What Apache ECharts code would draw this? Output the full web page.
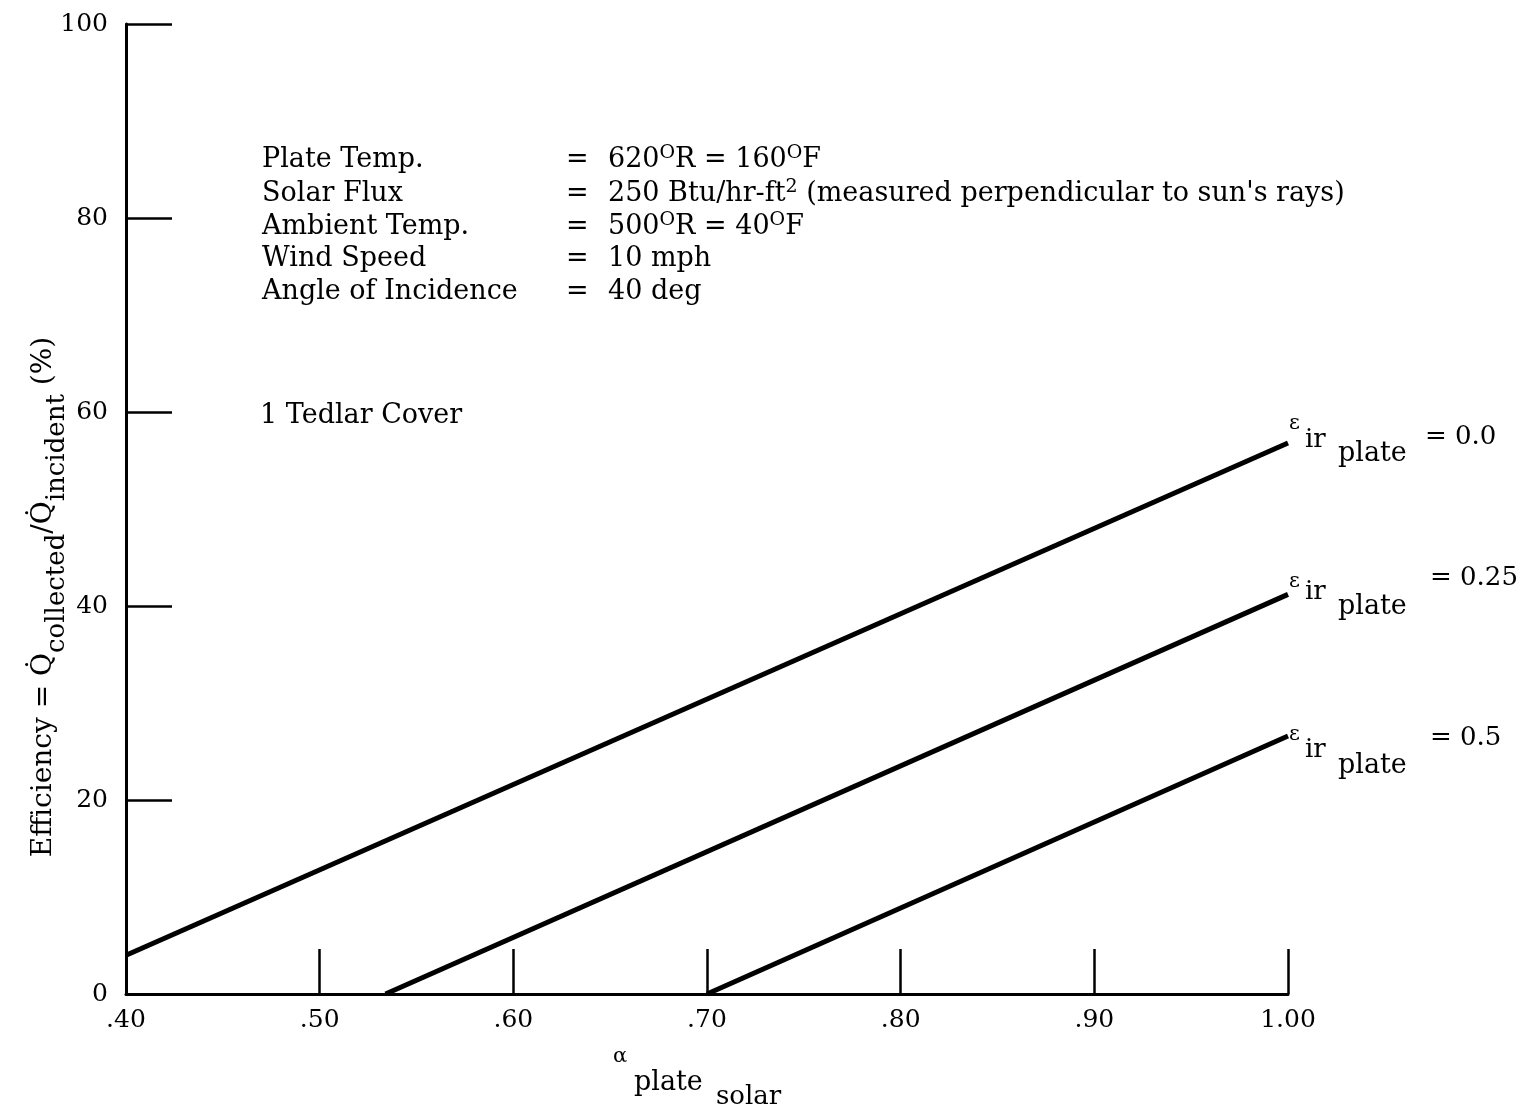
<!DOCTYPE html>
<html>
<head>
<meta charset="utf-8">
<style>
  html, body { margin: 0; padding: 0; background: #fff; }
  #chart { width: 1530px; height: 1109px; }
</style>
<script src="https://cdn.jsdelivr.net/npm/echarts@6/dist/echarts.min.js"></script>
</head>
<body>
<div id="chart"></div>
<script>
// alpha (solar absorptance of plate) vs efficiency (%), one line per plate ir emittance
var alphaE00 = [0.40, 1.00];
var effE00 = [4.0, 56.8];
var alphaE25 = [0.534, 1.00];
var effE25 = [0, 41.2];
var alphaE50 = [0.70, 1.00];
var effE50 = [0, 26.6];

var xTicks = ['.40', '.50', '.60', '.70', '.80', '.90', '1.00'];
var yTicks = ['0', '20', '40', '60', '80', '100'];

var serif = 'DejaVu Serif';

function pairs(xs, ys) {
    return xs.map(function (x, i) { return [x, ys[i]]; });
}

function lineSeries(xs, ys) {
    return {
        type: 'line',
        data: pairs(xs, ys),
        symbol: 'none',
        lineStyle: { color: '#000', width: 5 },
        animation: false
    };
}

var rich = {
    sup: { fontFamily: serif, fontSize: 19, color: '#000', padding: [0, 0, 14, 0] },
    sub: { fontFamily: serif, fontSize: 26, color: '#000', padding: [26, 0, 0, 0] }
};

function txt(x, y, text, size, extra) {
    var st = {
        text: text,
        x: x, y: y,
        font: (size || 27) + 'px "' + serif + '"',
        fill: '#000',
        verticalAlign: 'middle',
        rich: rich
    };
    if (extra) for (var k in extra) st[k] = extra[k];
    return { type: 'text', silent: true, style: st };
}

var infoLabels = ['Plate Temp.', 'Solar Flux', 'Ambient Temp.', 'Wind Speed', 'Angle of Incidence'];
var infoValues = [
    '620{sup|O}R = 160{sup|O}F',
    '250 Btu/hr-ft{sup|2} (measured perpendicular to sun\'s rays)',
    '500{sup|O}R = 40{sup|O}F',
    '10 mph',
    '40 deg'
];
var infoY = [160, 194, 227, 259, 292];

var graphics = [];
infoLabels.forEach(function (l, i) {
    graphics.push(txt(262, infoY[i], l));
    graphics.push(txt(566, infoY[i], '='));
    graphics.push(txt(608, infoY[i], infoValues[i]));
});
graphics.push(txt(260, 416, '1 Tedlar Cover'));

// curve labels: epsilon_ir,plate = value
var curveLabels = [
    { eps: 424, ir: 440, plate: 454, eq: 437, eqX: 1425, v: '= 0.0' },
    { eps: 582, ir: 592, plate: 607, eq: 578, eqX: 1430, v: '= 0.25' },
    { eps: 735, ir: 750, plate: 766, eq: 738, eqX: 1430, v: '= 0.5' }
];
curveLabels.forEach(function (c) {
    graphics.push(txt(1289, c.eps, '\u03b5', 21));
    graphics.push(txt(1305, c.ir, 'ir', 26));
    graphics.push(txt(1338, c.plate, 'plate', 27));
    graphics.push(txt(c.eqX, c.eq, c.v, 26));
});

// x axis name
graphics.push(txt(613, 1057, '\u03b1', 21));
graphics.push(txt(634, 1083, 'plate', 27));
graphics.push(txt(716, 1097, 'solar', 26));

// y axis name (rotated)
graphics.push({
    type: 'text',
    silent: true,
    x: 44, y: 597,
    rotation: Math.PI / 2,
    style: {
        text: 'Efficiency = Q\u0307{sub|collected}/Q\u0307{sub|incident} (%)',
        font: '28px "' + serif + '"',
        fill: '#000',
        align: 'center',
        verticalAlign: 'middle',
        rich: rich
    }
});

var chart = echarts.init(document.getElementById('chart'), null, { renderer: 'canvas' });
chart.setOption({
    backgroundColor: '#fff',
    animation: false,
    grid: { left: 126, right: 242, top: 24, bottom: 115, containLabel: false },
    xAxis: {
        type: 'value',
        min: 0.4, max: 1.0, interval: 0.1,
        axisLine: { show: true, lineStyle: { color: '#000', width: 3 } },
        axisTick: { show: true, inside: true, length: 45, lineStyle: { color: '#000', width: 2.5 } },
        splitLine: { show: false },
        axisLabel: {
            margin: 14,
            fontFamily: serif, fontSize: 25, color: '#000',
            formatter: function (v) {
                return xTicks[Math.round((v - 0.4) / 0.1)];
            }
        }
    },
    yAxis: {
        type: 'value',
        min: 0, max: 100, interval: 20,
        axisLine: { show: true, lineStyle: { color: '#000', width: 3 } },
        axisTick: { show: true, inside: true, length: 46, lineStyle: { color: '#000', width: 2.5 } },
        splitLine: { show: false },
        axisLabel: {
            margin: 18,
            fontFamily: serif, fontSize: 25, color: '#000',
            formatter: function (v) { return yTicks[Math.round(v / 20)]; }
        }
    },
    series: [
        lineSeries(alphaE00, effE00),
        lineSeries(alphaE25, effE25),
        lineSeries(alphaE50, effE50)
    ],
    graphic: graphics
});
</script>
</body>
</html>
